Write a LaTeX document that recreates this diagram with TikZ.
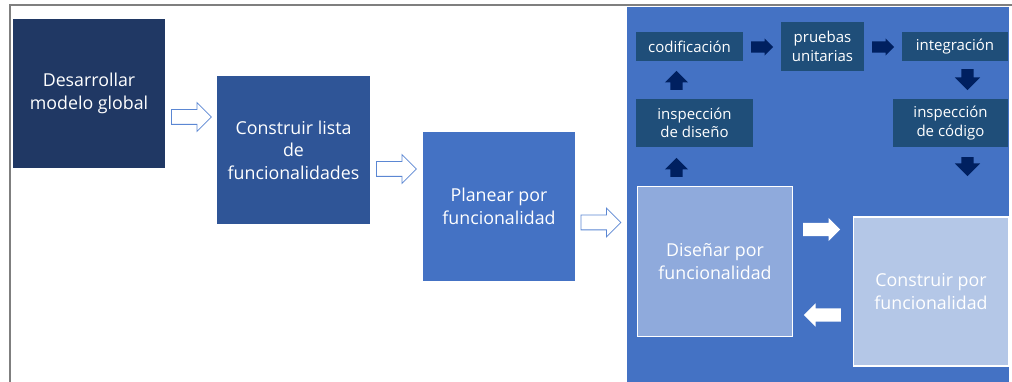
\documentclass[tikz,border=0pt]{standalone}
\usepackage{fontspec}
\setmainfont{Open Sans}
\usetikzlibrary{shapes.arrows}
\definecolor{framec}{HTML}{7F7F7F}
\definecolor{navyA}{HTML}{203864}
\definecolor{navyB}{HTML}{2F5597}
\definecolor{blueC}{HTML}{4472C4}
\definecolor{tealD}{HTML}{1F4E79}
\definecolor{darkArr}{HTML}{002060}
\definecolor{lightE}{HTML}{8FAADC}
\definecolor{lightF}{HTML}{B4C7E7}
\definecolor{outlineA}{HTML}{5B87D3}
\tikzset{
  bigbox/.style={rectangle, inner sep=0pt, text=white, align=center,
    font=\fontsize{17.8}{22.5}\selectfont},
  smallbox/.style={rectangle, inner sep=0pt, fill=tealD, text=white, align=center,
    font=\fontsize{15}{18.5}\selectfont},
  blockarr/.style={single arrow, inner xsep=0pt, minimum width=0pt, anchor=tail},
  hollowarr/.style={blockarr, draw=outlineA, fill=white, line width=0.8pt,
    minimum height=40pt, inner ysep=7pt, single arrow head extend=7pt},
  darkarr/.style={blockarr, fill=darkArr, draw=none},
  whitearr/.style={blockarr, fill=white, draw=none, minimum height=37pt,
    inner ysep=6.5pt, single arrow head extend=5pt}
}
\begin{document}
\begin{tikzpicture}[x=1pt,y=-1pt]
\useasboundingbox (0,0) rectangle (1012,382);
% frame
\draw[framec, line width=2pt] (10,382) -- (10,5.5) -- (1012,5.5);
% right panel
\fill[blueC] (627,7) rectangle (1009,382);
% left boxes
\node[bigbox, fill=navyA, minimum width=152pt, minimum height=149pt] (b1) at (89,93.5) {Desarrollar\\modelo global};
\node[bigbox, fill=navyB, minimum width=153pt, minimum height=148pt] (b2) at (293.5,150) {Construir lista\\de\\funcionalidades};
\node[bigbox, fill=blueC, minimum width=152pt, minimum height=149pt] (b3) at (499,206.5) {Planear por\\funcionalidad};
% hollow arrows
\node[hollowarr] (h1) at (171,117) {};
\node[hollowarr] (h2) at (376,169) {};
\node[hollowarr] (h3) at (580.5,222.5) {};
% small boxes
\node[smallbox, minimum width=107pt, minimum height=29pt] (cod) at (689.5,46.5) {codificación};
\node[smallbox, minimum width=83pt, minimum height=49pt] (pru) at (822.5,46.5) {pruebas\\unitarias};
\node[smallbox, minimum width=106pt, minimum height=29pt] (int) at (955,46.5) {integración};
\node[smallbox, minimum width=117pt, minimum height=48pt] (insd) at (694.5,123) {inspección\\de diseño};
\node[smallbox, minimum width=115pt, minimum height=48pt] (insc) at (950.5,123) {inspección\\de código};
% big inner boxes
\node[bigbox, fill=lightE, draw=white, line width=1.5pt, minimum width=155pt, minimum height=150pt] (dis) at (715,261.5) {Diseñar por\\funcionalidad};
\node[bigbox, fill=lightF, draw=white, line width=1.5pt, minimum width=155pt, minimum height=149pt] (con) at (931,291.5) {Construir por\\funcionalidad};
% dark arrows
\node[darkarr, minimum height=22pt, inner ysep=5.5pt, single arrow head extend=3pt] (r1) at (751,47) {};
\node[darkarr, minimum height=22pt, inner ysep=5.5pt, single arrow head extend=3pt] (r2) at (872,47) {};
\node[darkarr, rotate=90, minimum height=19pt, inner ysep=6pt, single arrow head extend=5.5pt] (u1) at (676.5,90) {};
\node[darkarr, rotate=90, minimum height=19pt, inner ysep=6pt, single arrow head extend=5.5pt] (u2) at (676.5,177) {};
\node[darkarr, rotate=-90, minimum height=21pt, inner ysep=6pt, single arrow head extend=6.5pt] (d1) at (967.5,69) {};
\node[darkarr, rotate=-90, minimum height=19pt, inner ysep=6pt, single arrow head extend=6.5pt] (d2) at (967.5,157) {};
% white arrows
\node[whitearr] (w1) at (803,229.5) {};
\node[whitearr, rotate=180] (w2) at (841,315) {};
\end{tikzpicture}
\end{document}
